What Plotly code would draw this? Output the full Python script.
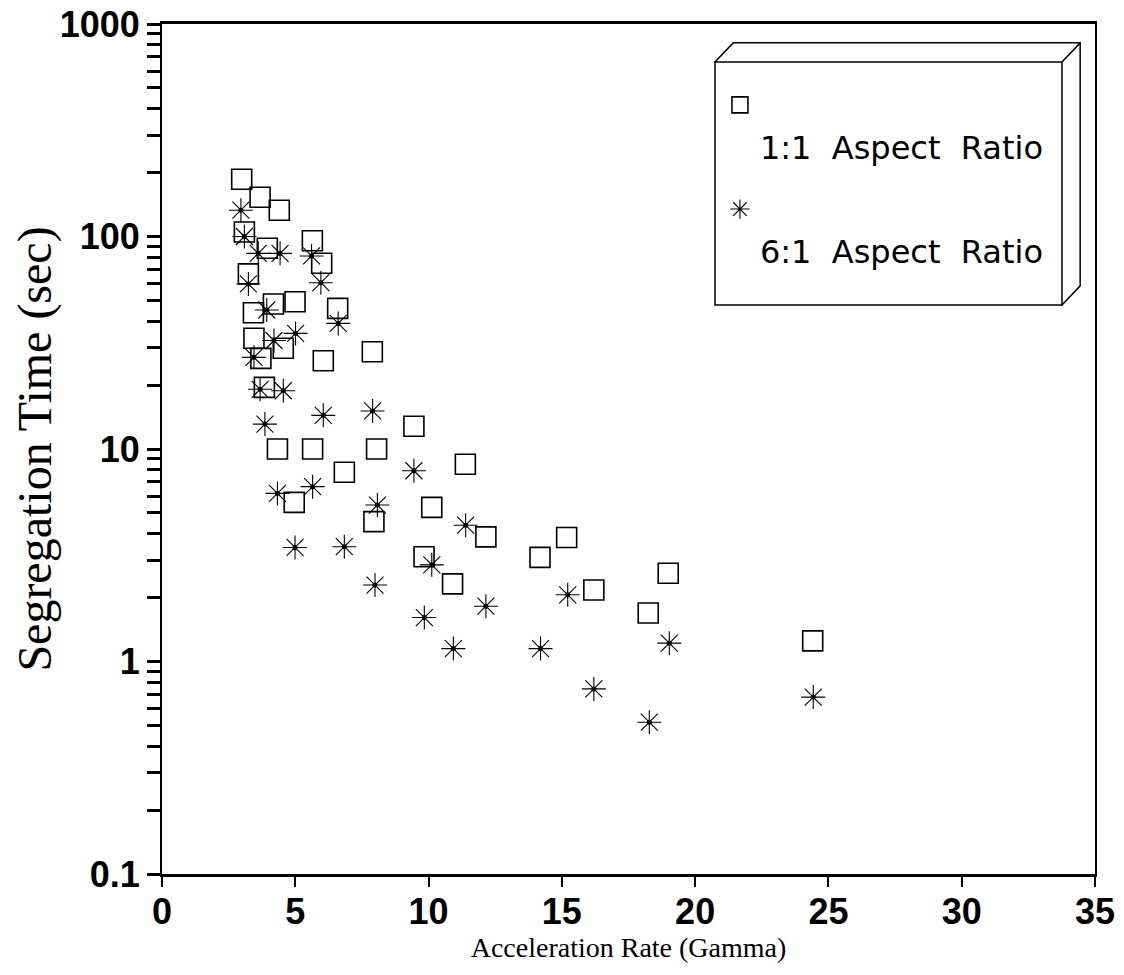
import plotly.graph_objects as go

# 1:1 aspect ratio particles (open squares)
gamma_1to1 = [2.99, 3.68, 4.40, 3.09, 3.95, 5.64, 5.99, 3.24, 4.18, 4.99, 3.43, 6.59,
              3.45, 4.55, 3.71, 6.05, 7.89, 3.84, 4.33, 5.65, 8.05, 9.45, 6.84, 11.38,
              4.96, 10.12, 7.95, 12.15, 9.83, 10.90, 14.18, 15.18, 18.99, 16.20, 18.24, 24.41]
time_1to1 = [186, 153, 133, 105, 88, 95.5, 74.8, 66.7, 48.1, 49.3, 43.8, 45.9,
             33.2, 29.8, 26.7, 26.0, 28.7, 19.5, 10.0, 10.0, 10.0, 12.8, 7.77, 8.47,
             5.61, 5.31, 4.55, 3.86, 3.11, 2.32, 3.09, 3.83, 2.60, 2.17, 1.69, 1.25]

# 6:1 aspect ratio particles (asterisks)
gamma_6to1 = [2.96, 3.09, 3.61, 4.43, 5.61, 5.96, 3.24, 3.93, 6.61, 5.01, 4.20, 3.45,
              3.68, 4.55, 6.05, 3.86, 7.90, 9.45, 4.33, 5.65, 8.08, 11.39, 4.99, 6.84,
              10.12, 7.99, 12.15, 9.84, 10.93, 14.20, 15.22, 19.03, 16.20, 18.28, 24.43]
time_6to1 = [133, 100, 83.3, 83.3, 81, 60.6, 59.8, 45.1, 39.0, 35.0, 32.4, 27.0,
             19.1, 18.8, 14.4, 13.1, 15.1, 7.9, 6.18, 6.65, 5.45, 4.38, 3.44, 3.47,
             2.85, 2.29, 1.82, 1.61, 1.15, 1.15, 2.06, 1.22, 0.743, 0.518, 0.68]

y_major = [0.1, 1, 10, 100, 1000]
y_major_text = ["0.1", "1", "10", "100", "1000"]
y_minor = [m * d for d in [0.1, 1, 10, 100] for m in range(2, 10)]

fig = go.Figure()

fig.add_trace(go.Scatter(
    x=gamma_1to1, y=time_1to1, mode="markers",
    name="<br>1:1  Aspect  Ratio", legendgroup="a",
    marker=dict(symbol="square-open", size=20, color="black", line=dict(width=1.6, color="black")),
))
fig.add_trace(go.Scatter(
    x=gamma_6to1, y=time_6to1, mode="markers",
    name="<br>6:1  Aspect  Ratio", legendgroup="b",
    marker=dict(symbol="asterisk-open", size=20, color="black", line=dict(width=1.1, color="black")),
))
# solid centre dot of each asterisk
fig.add_trace(go.Scatter(
    x=gamma_6to1, y=time_6to1, mode="markers", showlegend=False, hoverinfo="skip",
    marker=dict(symbol="circle", size=5, color="black"),
))

# 3-D looking legend box (front face plus top and right faces)
x0, x1, y0, y1 = 0.5927, 0.9646, 0.6694, 0.9553
dx, dy = 0.0195, 0.0225
fig.add_shape(type="path", xref="paper", yref="paper",
              path=f"M {x0} {y1} L {x0+dx} {y1+dy} L {x1+dx} {y1+dy} L {x1+dx} {y0+dy} L {x1} {y0} Z",
              line=dict(color="black", width=1.5), fillcolor="white", layer="above")
fig.add_shape(type="rect", xref="paper", yref="paper", x0=x0, x1=x1, y0=y0, y1=y1,
              line=dict(color="black", width=1.5), fillcolor="white", layer="above")
fig.add_shape(type="line", xref="paper", yref="paper", x0=x1, y0=y1, x1=x1+dx, y1=y1+dy,
              line=dict(color="black", width=1.5), layer="above")

# the page body adds an 8px margin, so the figure is 8px smaller and margins shifted
fig.update_layout(
    width=1116, height=967, autosize=False,
    margin=dict(l=154, r=29, t=16, b=101, autoexpand=False),
    paper_bgcolor="white", plot_bgcolor="white",
    showlegend=True,
    legend=dict(x=0.598, y=0.937, xanchor="left", yanchor="top",
                bgcolor="rgba(0,0,0,0)", borderwidth=0, valign="top", tracegroupgap=18,
                font=dict(family="DejaVu Sans, Arial, sans-serif", size=32, color="black")),
    xaxis=dict(
        range=[0, 35], tickmode="linear", tick0=0, dtick=5, automargin=False,
        showgrid=False, zeroline=False,
        showline=True, linecolor="black", linewidth=3, mirror=True,
        ticks="outside", ticklen=10, tickwidth=1.5, tickcolor="black", ticklabelstandoff=-6,
        ticklabeloverflow="allow",
        tickfont=dict(family="Liberation Sans, Arial, sans-serif", size=36, color="black", weight="bold"),
        title=dict(text="Acceleration Rate (Gamma)", standoff=0,
                   font=dict(family="Liberation Serif, Times New Roman, serif", size=28, color="black")),
    ),
    yaxis=dict(
        type="log", range=[-1, 3], automargin=False,
        tickmode="array", tickvals=y_major, ticktext=y_major_text,
        ticklabeloverflow="allow",
        showgrid=False, zeroline=False,
        showline=True, linecolor="black", linewidth=2, mirror=True,
        ticks="outside", ticklen=13, tickwidth=2.5, tickcolor="black",
        minor=dict(tickmode="array", tickvals=y_minor, ticks="outside", ticklen=13,
                   tickwidth=2.5, tickcolor="black", showgrid=False),
        tickfont=dict(family="Liberation Sans, Arial, sans-serif", size=36, color="black", weight="bold"),
        title=dict(text="Segregation Time (sec)", standoff=16,
                   font=dict(family="Liberation Serif, Times New Roman, serif", size=48, color="black")),
    ),
)

fig.write_html("out.html")
